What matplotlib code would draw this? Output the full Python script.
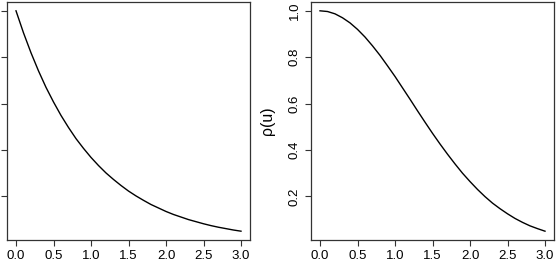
import matplotlib
matplotlib.use('Agg')
import matplotlib.pyplot as plt

# lag values and the two correlation curves
u = [0.0, 0.1, 0.2, 0.3, 0.4, 0.5, 0.6, 0.7, 0.8, 0.9, 1.0,
     1.1, 1.2, 1.3, 1.4, 1.5, 1.6, 1.7, 1.8, 1.9, 2.0,
     2.1, 2.2, 2.3, 2.4, 2.5, 2.6, 2.7, 2.8, 2.9, 3.0]
rho_exp = [1.000, 0.905, 0.819, 0.741, 0.670, 0.607, 0.549, 0.497, 0.449, 0.407, 0.368,
           0.333, 0.301, 0.273, 0.247, 0.223, 0.202, 0.183, 0.165, 0.150, 0.135,
           0.122, 0.111, 0.100, 0.091, 0.082, 0.074, 0.067, 0.061, 0.055, 0.050]
rho_gauss = [1.000, 0.997, 0.987, 0.970, 0.948, 0.920, 0.887, 0.849, 0.808, 0.763, 0.717,
             0.668, 0.619, 0.569, 0.520, 0.472, 0.426, 0.382, 0.340, 0.300, 0.264,
             0.230, 0.199, 0.171, 0.147, 0.125, 0.105, 0.088, 0.073, 0.061, 0.050]
xticks = [0.0, 0.5, 1.0, 1.5, 2.0, 2.5, 3.0]
yticks = [0.2, 0.4, 0.6, 0.8, 1.0]

plt.rcParams['font.family'] = ['Liberation Sans', 'DejaVu Sans']

W, H = 556, 270
fig = plt.figure(figsize=(W / 100, H / 100), dpi=100)

def style(ax, ylabels=True):
    ax.set_xlim(-0.12, 3.12)
    ax.set_ylim(0.012, 1.038)
    ax.set_xticks(xticks)
    ax.set_xticklabels(['%.1f' % t for t in xticks])
    ax.set_yticks(yticks)
    if ylabels:
        ax.set_yticklabels(['%.1f' % t for t in yticks], rotation=90, va='center')
    else:
        ax.set_yticklabels([])
    ax.tick_params(length=4.5, width=0.8, labelsize=9.5, pad=3, color='#333333')
    for s in ax.spines.values():
        s.set_linewidth(0.9)
        s.set_color('#333333')

# left panel: its y tick labels are off the picture, only the ticks show
ax1 = fig.add_axes([7 / W, 30 / H, 243 / W, 238 / H])
ax1.plot(u, rho_exp, color='black', lw=1.0)
style(ax1, ylabels=False)

ax2 = fig.add_axes([311 / W, 30 / H, 243 / W, 238 / H])
ax2.plot(u, rho_gauss, color='black', lw=1.0)
style(ax2)
ax2.set_ylabel('\u03c1(u)', fontsize=11.5, labelpad=10)

fig.savefig('out.png', dpi=100)
